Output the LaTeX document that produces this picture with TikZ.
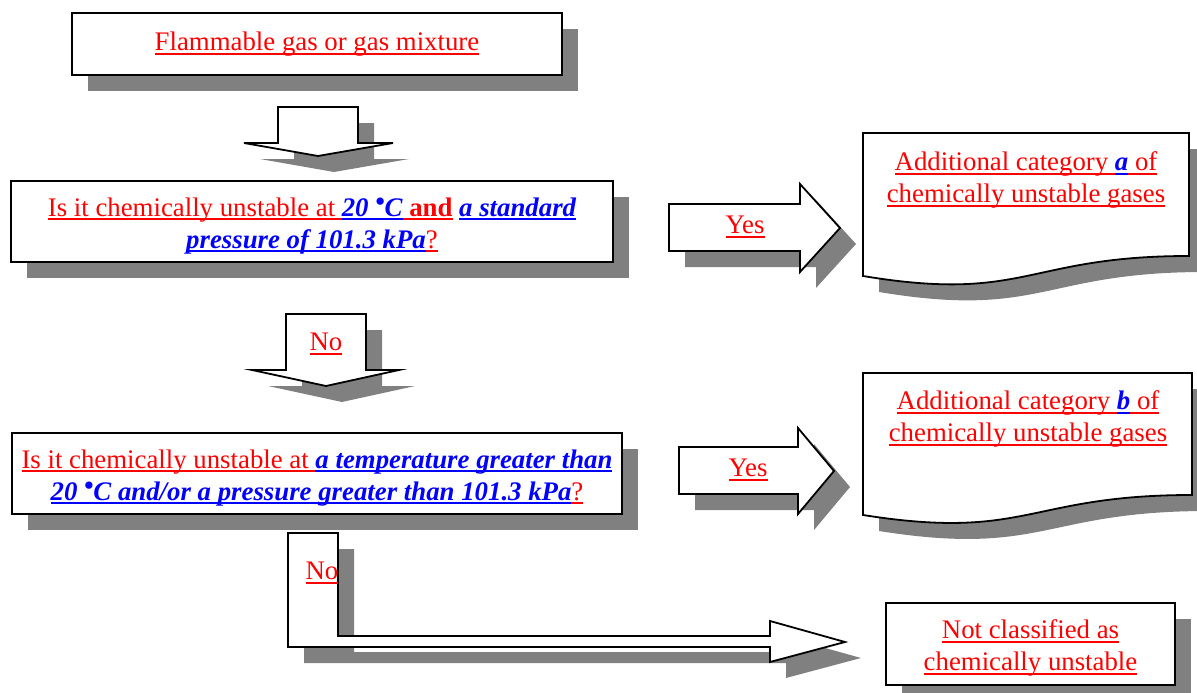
\documentclass[tikz,border=0pt]{standalone}
\usepackage{fontspec}
\setmainfont{Liberation Serif}
\usetikzlibrary{shadows}
\newcommand{\ulin}[1]{\leavevmode\setbox0=\hbox{#1}\rlap{\rule[-4.2pt]{\wd0}{2pt}}\box0}
\newcommand{\ured}[1]{{\color{red}\ulin{#1}}}
\newcommand{\ublu}[1]{{\color{blue}\bfseries\itshape\ulin{#1}}}
\newcommand{\dgr}{\raisebox{.22em}{\textbullet}}
\newcommand{\tstrut}{\rule{0pt}{27pt}}
\begin{document}
\begin{tikzpicture}[x=1pt,y=-1pt,
    every node/.style={font=\fontsize{26.8}{32}\selectfont,align=center},
    dropsh/.style={drop shadow={shadow xshift=16pt,shadow yshift=-16pt,opacity=1,fill=black!50}},
    flowbox/.style={draw,line width=1.8pt,fill=white,dropsh,inner sep=0pt},
    blk/.style={draw,line width=1.8pt,fill=white,dropsh,line join=miter}]
    \useasboundingbox (0,0) rectangle (1197,693);
    \node[flowbox,minimum width=490pt,minimum height=62pt] (gas) at (317,44)
      {\ured{Flammable gas or gas mixture}};
    \path[blk] (278,107) -- (358,107) -- (358,143) -- (393,143) -- (318,156)
      -- (244,143) -- (278,143) -- cycle;
    \node[flowbox,minimum width=602pt,minimum height=81pt] (q1) at (312,221.5)
      {\tstrut\ured{Is it chemically unstable at }\ublu{20 \dgr C}\ured{\bfseries\ and} \ublu{a standard}\\
       \ublu{pressure of 101.3 kPa}\ured{?}};
    \path[blk] (669,204) -- (800,204) -- (800,184) -- (840,228) -- (800,272)
      -- (800,251) -- (669,251) -- cycle;
    \node (yes1) at (745,227) {\ured{Yes}};
    \path[blk] (863,133) -- (1189,133) -- (1189,256)
      .. controls (1026,256) and (1026,303) .. (863,276) -- cycle;
    \node (cata) at (1026,180)
      {\ured{Additional category }\ublu{a}\ured{ of}\\ \ured{chemically unstable gases}};
    \path[blk] (286,314) -- (366,314) -- (366,370) -- (399,370) -- (326,386)
      -- (252,370) -- (286,370) -- cycle;
    \node (no1) at (326,344) {\ured{No}};
    \node[flowbox,minimum width=610pt,minimum height=81pt] (q2) at (317,473.5)
      {\tstrut\ured{Is it chemically unstable at }\ublu{a temperature greater than}\\
       \ublu{20 \dgr C and/or a pressure greater than 101.3 kPa}\ured{?}};
    \path[blk] (679,447) -- (798,447) -- (798,428) -- (834,471) -- (798,514)
      -- (798,494) -- (679,494) -- cycle;
    \node (yes2) at (748,470) {\ured{Yes}};
    \path[blk] (863,373) -- (1192,373) -- (1192,495)
      .. controls (1027.5,495) and (1027.5,541) .. (863,515) -- cycle;
    \node (catb) at (1028,419)
      {\ured{Additional category }\ublu{b}\ured{ of}\\ \ured{chemically unstable gases}};
    \path[blk] (288,533) -- (338,533) -- (338,636) -- (770,636) -- (770,621)
      -- (845,642) -- (770,662) -- (770,647) -- (288,647) -- cycle;
    \node (no2) at (322,573) {\ured{No}};
    \node[flowbox,minimum width=289pt,minimum height=82pt] (notc) at (1030.5,644)
      {\tstrut\ured{Not classified as}\\ \ured{chemically unstable}};
\end{tikzpicture}
\end{document}
